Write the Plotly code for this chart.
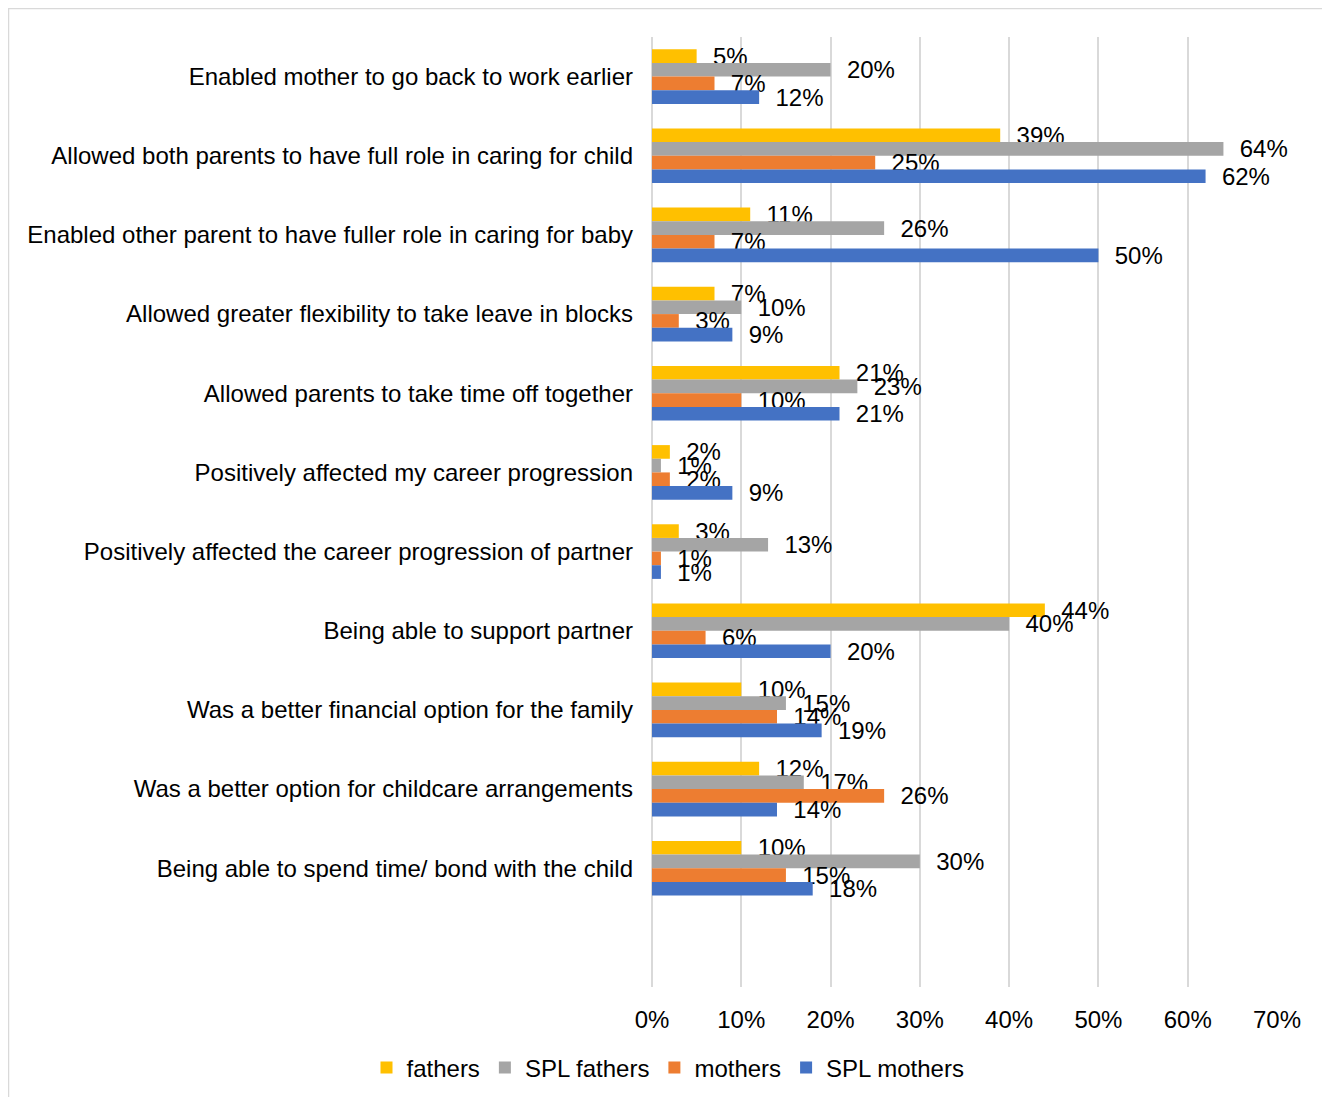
import plotly.graph_objects as go

CATEGORIES = [
    "Enabled mother to go back to work earlier",
    "Allowed both parents to have full role in caring for child",
    "Enabled other parent to have fuller role in caring for baby",
    "Allowed greater flexibility to take leave in blocks",
    "Allowed parents to take time off together",
    "Positively affected my career progression",
    "Positively affected the career progression of partner",
    "Being able to support partner",
    "Was a better financial option for the family",
    "Was a better option for childcare arrangements",
    "Being able to spend time/ bond with the child",
]
FATHERS = [5, 39, 11, 7, 21, 2, 3, 44, 10, 12, 10]
SPL_FATHERS = [20, 64, 26, 10, 23, 1, 13, 40, 15, 17, 30]
MOTHERS = [7, 25, 7, 3, 10, 2, 1, 6, 14, 26, 15]
SPL_MOTHERS = [12, 62, 50, 9, 21, 9, 1, 20, 19, 14, 18]
X_TICKS = [0, 10, 20, 30, 40, 50, 60, 70]

SERIES = [
    ("fathers", FATHERS, "#FFC000"),
    ("SPL fathers", SPL_FATHERS, "#A5A5A5"),
    ("mothers", MOTHERS, "#ED7D31"),
    ("SPL mothers", SPL_MOTHERS, "#4472C4"),
]

FONT = "Liberation Sans, Arial, sans-serif"
FS = 24

# page has an 8px body margin, so the figure starts at (8, 8)
W, H = 1322, 1089
L, R, T, B = 644, 53, 29, 110
PW, PH = W - L - R, H - T - B


def px_to_paper_x(px):
    return (px - 8 - L) / PW


def px_to_paper_y(py):
    return (H - B - (py - 8)) / PH


fig = go.Figure()
for name, vals, color in SERIES:
    fig.add_trace(go.Bar(
        name=name, y=CATEGORIES, x=vals, orientation="h",
        marker=dict(color=color, line=dict(width=0)),
        text=[f"\u00a0\u00a0{v}%" for v in vals],
        textposition="outside", constraintext="none", cliponaxis=False,
        textfont=dict(family=FONT, size=FS, color="#000000"),
    ))

fig.update_layout(
    width=W, height=H,
    margin=dict(l=L, r=R, t=T, b=B, autoexpand=False),
    barmode="group", bargap=0.31, bargroupgap=0,
    plot_bgcolor="white", paper_bgcolor="white",
    font=dict(family=FONT, size=FS, color="#000000"),
    showlegend=True,
    legend=dict(
        orientation="h", x=px_to_paper_x(668), y=px_to_paper_y(1068),
        xanchor="center", yanchor="middle",
        font=dict(family=FONT, size=FS, color="#000000"),
        itemwidth=30, tracegroupgap=0,
    ),
    shapes=[dict(
        type="rect", xref="paper", yref="paper",
        x0=px_to_paper_x(8.5), x1=px_to_paper_x(1345),
        y0=px_to_paper_y(1110), y1=px_to_paper_y(8.5),
        line=dict(color="#D9D9D9", width=1.5), fillcolor="rgba(0,0,0,0)",
        layer="below",
    )],
)

fig.update_xaxes(
    range=[0, 70], tickvals=X_TICKS, ticktext=[f"{t}%" for t in X_TICKS],
    showgrid=True, gridcolor="#D9D9D9", gridwidth=2,
    zeroline=True, zerolinecolor="#D9D9D9", zerolinewidth=2,
    showline=False, ticks="", ticklabelstandoff=16,
    tickfont=dict(family=FONT, size=FS, color="#000000"),
)
fig.update_yaxes(
    type="category", range=[11.5, -0.5],
    showgrid=False, zeroline=False, showline=False, ticks="",
    ticklabelstandoff=18,
    tickfont=dict(family=FONT, size=FS, color="#000000"),
)

fig.write_html("out.html")
